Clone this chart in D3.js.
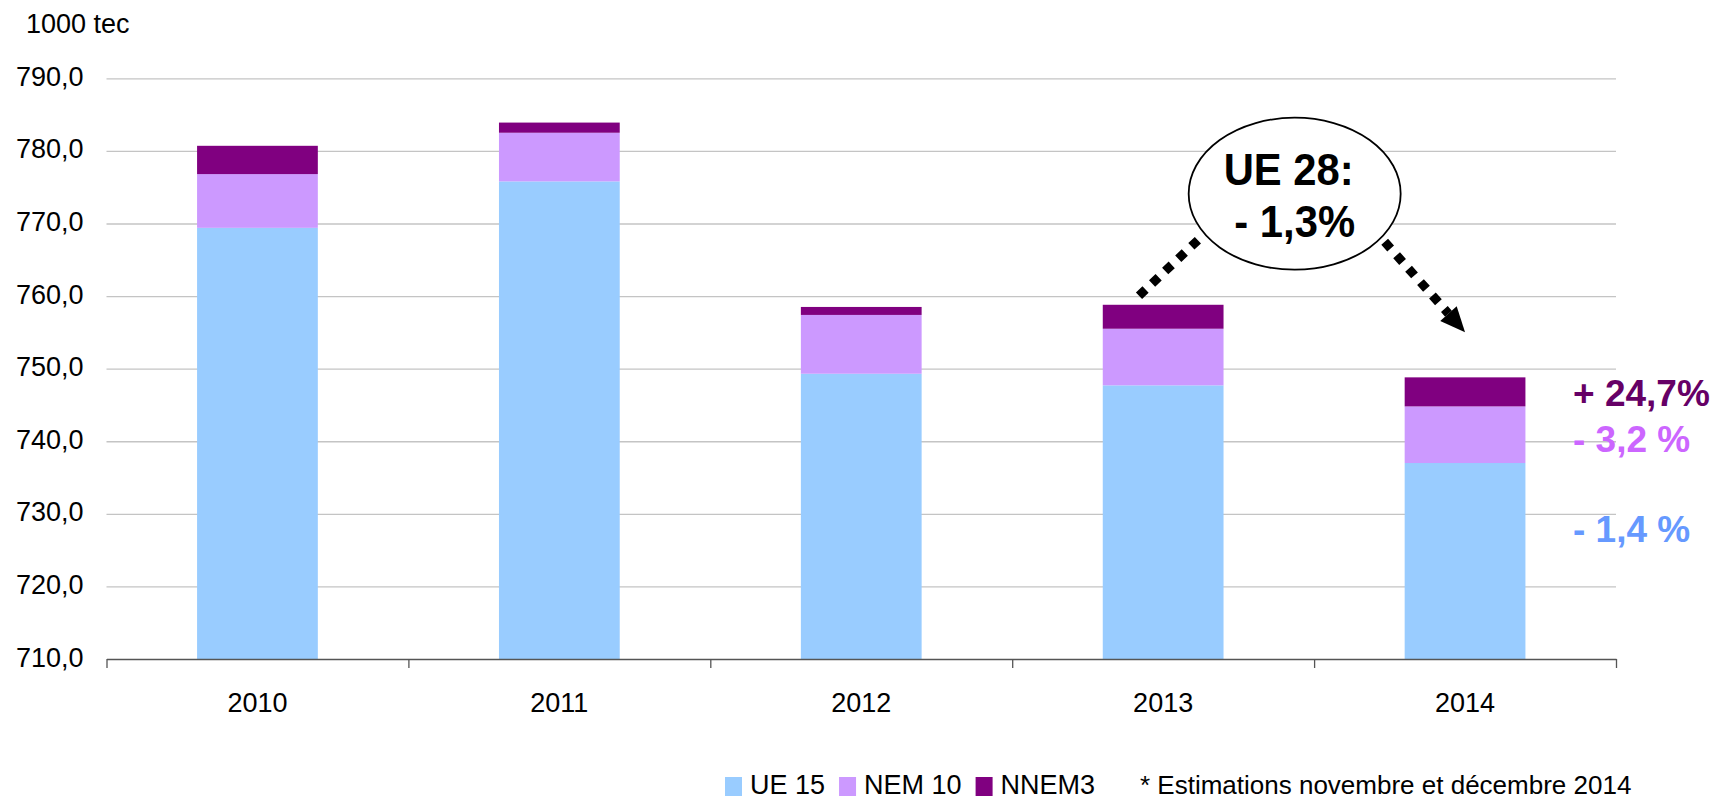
<!DOCTYPE html>
<html>
<head>
<meta charset="utf-8">
<script src="https://cdn.jsdelivr.net/npm/d3@7"></script>
<style>
body { margin: 0; background: #fff; }
svg text { font-family: "Liberation Sans", Arial, sans-serif; }
</style>
</head>
<body>
<svg width="1722" height="800"></svg>
<script>
// values (1000 tec)
var years = ["2010", "2011", "2012", "2013", "2014"];
var ue15 = [769.4, 775.8, 749.3, 747.7, 737.0];
var nem10 = [7.4, 6.7, 8.1, 7.8, 7.8];
var nnem3 = [3.9, 1.4, 1.1, 3.3, 4.0];

var seriesNames = ["UE 15", "NEM 10", "NNEM3"];
var seriesColors = ["#99ccff", "#cc99ff", "#800080"];

var yTicks = [710, 720, 730, 740, 750, 760, 770, 780, 790];

var changeLabels = ["+ 24,7%", "- 3,2 %", "- 1,4 %"];
var changeColors = ["#660066", "#cc66ff", "#6699ff"];

var calloutLines = ["UE 28:", "- 1,3%"];
var footnote = "* Estimations novembre et décembre 2014";

var svg = d3.select("svg"),
    margin = {top: 78.3, right: 106, bottom: 141, left: 106.5},
    width = 1722 - margin.left - margin.right,
    height = 800 - margin.top - margin.bottom,
    g = svg.append("g").attr("transform", "translate(" + margin.left + "," + margin.top + ")");

var x = d3.scaleBand()
    .domain(years)
    .range([0, width])
    .paddingInner(0.6)
    .paddingOuter(0.3);

var y = d3.scaleLinear()
    .domain([710, 790])
    .range([height, 0]);

var fr = d3.formatLocale({decimal: ",", thousands: " ", grouping: [3], currency: ["", " €"]});
var fmt = fr.format(".1f");

// gridlines
g.append("g")
    .call(d3.axisLeft(y)
        .tickValues(yTicks.slice(1))
        .tickSize(-width)
        .tickFormat(""))
    .call(function(a) {
        a.select(".domain").remove();
        a.selectAll("line").attr("stroke", "#c4c4c4").attr("stroke-width", 1.3);
    });

// y labels
g.append("g")
    .call(d3.axisLeft(y)
        .tickValues(yTicks)
        .tickSize(0)
        .tickPadding(23)
        .tickFormat(fmt))
    .call(function(a) {
        a.select(".domain").remove();
        a.selectAll("text")
            .attr("dy", "0.26em")
            .attr("fill", "#000")
            .style("font-size", "27px")
            .style("font-family", "'Liberation Sans', Arial, sans-serif");
    });

// stacked bars
var rows = years.map(function(yr, i) {
    return {year: yr, "UE 15": ue15[i], "NEM 10": nem10[i], "NNEM3": nnem3[i]};
});
var stack = d3.stack().keys(seriesNames);
var layers = stack(rows);

g.selectAll(".layer")
    .data(layers)
    .enter().append("g")
    .attr("class", "layer")
    .attr("fill", function(d, i) { return seriesColors[i]; })
    .selectAll("rect")
    .data(function(d) { return d; })
    .enter().append("rect")
    .attr("x", function(d) { return x(d.data.year); })
    .attr("width", x.bandwidth())
    .attr("y", function(d) { return y(d[1]); })
    .attr("height", function(d) { return y(Math.max(d[0], 710)) - y(d[1]); });

// x axis with ticks between categories
var xb = d3.scaleLinear().domain([0, years.length]).range([0, width]);
g.append("g")
    .attr("transform", "translate(0," + height + ")")
    .call(d3.axisBottom(xb)
        .tickValues(d3.range(years.length + 1))
        .tickSize(9)
        .tickSizeOuter(0)
        .tickFormat(""))
    .call(function(a) {
        a.select(".domain").attr("stroke", "#555").attr("stroke-width", 1.3);
        a.selectAll("line").attr("stroke", "#555").attr("stroke-width", 1.3);
    });

g.append("g")
    .attr("transform", "translate(0," + height + ")")
    .call(d3.axisBottom(x).tickSize(0).tickPadding(34))
    .call(function(a) {
        a.select(".domain").remove();
        a.selectAll("text")
            .attr("fill", "#000")
            .style("font-size", "27px")
            .style("font-family", "'Liberation Sans', Arial, sans-serif");
    });

// unit label
svg.append("text")
    .attr("x", 26)
    .attr("y", 33)
    .style("font-size", "27px")
    .text("1000 tec");

// callout: ellipse with dotted arrows
var totals = years.map(function(yr, i) { return ue15[i] + nem10[i] + nnem3[i]; });
var bw = x.bandwidth();
var cx = margin.left + x("2014") - 110,
    cy = margin.top + y(774.1);

var startL = [margin.left + x("2013") + bw * 0.3, margin.top + y(totals[3]) - 9],
    endL = [cx - 91, cy + 41];
var startR = [cx + 90, cy + 48],
    tip = [margin.left + x("2014") + bw / 2, margin.top + y(totals[4]) - 45];

var ang = Math.atan2(tip[1] - startR[1], tip[0] - startR[0]);
var headLen = 25, headW = 11;
var base = [tip[0] - headLen * Math.cos(ang), tip[1] - headLen * Math.sin(ang)];

svg.append("line")
    .attr("x1", startL[0]).attr("y1", startL[1])
    .attr("x2", endL[0]).attr("y2", endL[1])
    .attr("stroke", "#000")
    .attr("stroke-width", 9)
    .attr("stroke-dasharray", "9,9");

svg.append("line")
    .attr("x1", startR[0]).attr("y1", startR[1])
    .attr("x2", base[0]).attr("y2", base[1])
    .attr("stroke", "#000")
    .attr("stroke-width", 9)
    .attr("stroke-dasharray", "9,9");

svg.append("path")
    .attr("d", d3.line()([
        tip,
        [base[0] + headW * Math.sin(ang), base[1] - headW * Math.cos(ang)],
        [base[0] - headW * Math.sin(ang), base[1] + headW * Math.cos(ang)]
    ]) + "Z")
    .attr("fill", "#000");

svg.append("ellipse")
    .attr("cx", cx).attr("cy", cy)
    .attr("rx", 106).attr("ry", 76)
    .attr("fill", "#fff")
    .attr("stroke", "#000")
    .attr("stroke-width", 1.8);

svg.selectAll(".callout")
    .data(calloutLines)
    .enter().append("text")
    .attr("class", "callout")
    .attr("text-anchor", "middle")
    .attr("transform", function(d, i) {
        return "translate(" + (i === 0 ? cx - 6 : cx) + "," + (i === 0 ? cy - 9 : cy + 43) + ") scale(0.95,1)";
    })
    .style("font-size", "44px")
    .style("font-weight", "bold")
    .text(function(d) { return d; });

// change labels on the right
var changeY = [406, 451.7, 541.7];
svg.selectAll(".change")
    .data(changeLabels)
    .enter().append("text")
    .attr("class", "change")
    .attr("x", margin.left + width - 43)
    .attr("y", function(d, i) { return changeY[i]; })
    .attr("fill", function(d, i) { return changeColors[i]; })
    .style("font-size", "37px")
    .style("font-weight", "bold")
    .text(function(d) { return d; });

// legend
var legend = svg.append("g").attr("transform", "translate(725,0)");
var lx = 0;
seriesNames.forEach(function(name, i) {
    legend.append("rect")
        .attr("x", lx).attr("y", 777)
        .attr("width", 17).attr("height", 19)
        .attr("fill", seriesColors[i]);
    var t = legend.append("text")
        .attr("x", lx + 25).attr("y", 794)
        .style("font-size", "27px")
        .text(name);
    lx += 25 + t.node().getComputedTextLength() + 14;
});

// footnote (cut off at the bottom in the reference; kept just inside here)
svg.append("text")
    .attr("x", 1140)
    .attr("y", 794)
    .style("font-size", "26px")
    .text(footnote);
</script>
</body>
</html>
